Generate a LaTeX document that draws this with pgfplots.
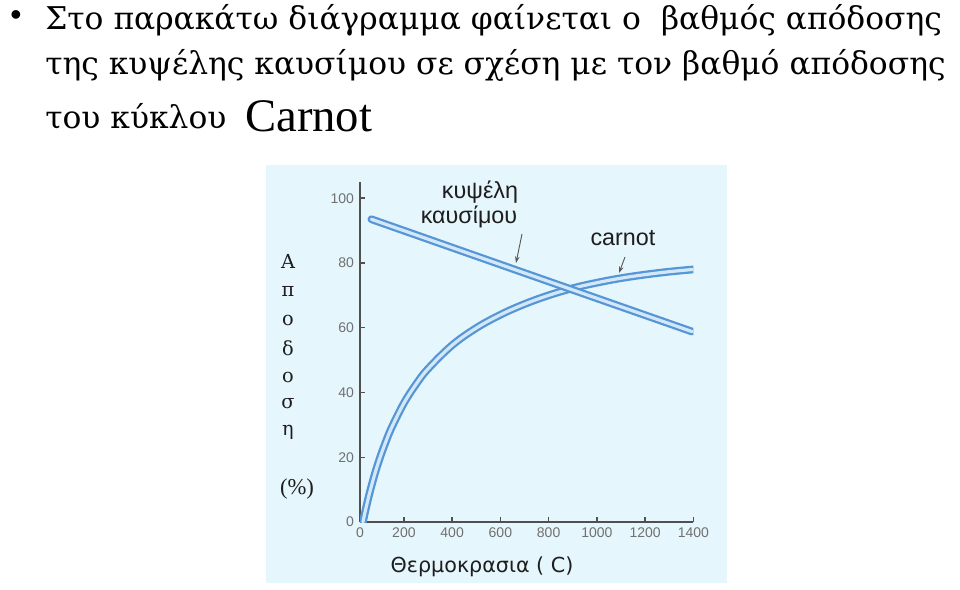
\documentclass[border=0pt]{standalone}
\usepackage{fontspec}
\setmainfont{Liberation Serif}
\newfontfamily\sansf{Liberation Sans}
\newfontfamily\dejavu{DejaVu Sans}
\newfontfamily\dserif{DejaVu Serif}
\usepackage{pgfplots}
\pgfplotsset{compat=1.18}
\usetikzlibrary{arrows.meta}
\definecolor{panel}{RGB}{229,246,252}
\definecolor{cblue}{RGB}{86,150,214}
\definecolor{cinner}{RGB}{210,232,248}
\definecolor{axgray}{RGB}{80,80,80}
\definecolor{tickgray}{RGB}{112,112,112}
\definecolor{txt}{RGB}{30,30,30}

\pgfplotstableread{
x y
30 0
40 3.4
50 6.6
60 9.6
80 15.0
100 19.7
125 24.8
150 29.3
200 36.7
250 42.5
300 47.3
400 54.6
500 59.9
600 64.0
700 67.3
800 70.0
900 72.2
1000 73.9
1100 75.3
1200 76.4
1300 77.3
1400 78.0
}\carnot

\pgfplotstableread{
x y
65 93.5
700 76.9
1395 58.8
}\fuelcell

\begin{document}
\begin{tikzpicture}[x=0.75pt,y=-0.75pt]
\useasboundingbox (0,0) rectangle (960,589);
\fill[white] (0,0) rectangle (960,589);
\fill[panel] (266,165) rectangle (727,583);

% bullet text
\node[anchor=center, inner sep=0] at (16,18) {\sansf\fontsize{24}{24}\selectfont •};
\node[anchor=base west, inner sep=0] at (45,29) {\dserif\fontsize{23.5}{30}\selectfont Στο παρακάτω διάγραμμα φαίνεται ο\ \ βαθμός απόδοσης};
\node[anchor=base west, inner sep=0] at (45,74) {\dserif\fontsize{23.5}{30}\selectfont της κυψέλης καυσίμου σε σχέση με τον βαθμό απόδοσης};
\node[anchor=base west, inner sep=0] at (45,128) {\dserif\fontsize{23.5}{30}\selectfont του κύκλου};
\node[anchor=base west, inner sep=0] at (245,131) {\fontsize{35}{40}\selectfont Carnot};

\begin{axis}[
  at={(270pt,-391.5pt)}, anchor=south west,
  scale only axis, width=250pt, height=255pt,
  xmin=18, xmax=1400, ymin=0, ymax=105,
  axis lines=left,
  axis line style={draw=axgray, line width=1.4pt, -},
  tick align=inside,
  major tick length=4pt,
  tick style={draw=axgray, line width=1.1pt},
  xtick={18,200,400,600,800,1000,1200,1400},
  xticklabels={0,200,400,600,800,1000,1200,1400},
  ytick={0,20,40,60,80,100},
  /pgf/number format/assume math mode=true,
  ticklabel style={font=\sansf\fontsize{10.5}{12}\selectfont, text=tickgray},
  xticklabel style={yshift=-1pt},
  yticklabel style={xshift=-1pt},
]
\addplot[draw=cblue, line width=1.7pt, double=cinner, double distance=2.4pt, line cap=round, smooth, tension=0.6] table[x=x,y=y] {\carnot};
\addplot[draw=cblue, line width=1.7pt, double=cinner, double distance=2.4pt, line cap=round] table[x=x,y=y] {\fuelcell};
\end{axis}

% annotations
\node[anchor=center, inner sep=0, text=txt] at (480,192) {\sansf\fontsize{17.5}{20}\selectfont κυψέλη};
\node[anchor=center, inner sep=0, text=txt] at (469,217) {\sansf\fontsize{17.5}{20}\selectfont καυσίμου};
\node[anchor=center, inner sep=0, text=txt] at (623,238) {\sansf\fontsize{17.5}{20}\selectfont carnot};
\draw[gray!70!black, line width=0.7pt, -{Stealth[length=5pt,width=3.5pt]}] (522,234) -- (516,263);
\draw[gray!70!black, line width=0.7pt, -{Stealth[length=5pt,width=3.5pt]}] (625,257) -- (619,273);

% y label stacked
\foreach \ch/\yy in {Α/261, π/291, ο/320, δ/348, ο/377, σ/404, η/432} {
  \node[anchor=center, inner sep=0, text=txt] at (288,\yy) {\dserif\fontsize{14.5}{18}\selectfont \ch};
}
\node[anchor=center, inner sep=0, text=txt] at (297,489) {\fontsize{17}{18}\selectfont (\%)};

% x label
\node[anchor=center, inner sep=0, text=txt] at (482,567) {\dejavu\fontsize{15.5}{18}\selectfont Θερμοκρασια ( C)};
\end{tikzpicture}
\end{document}
